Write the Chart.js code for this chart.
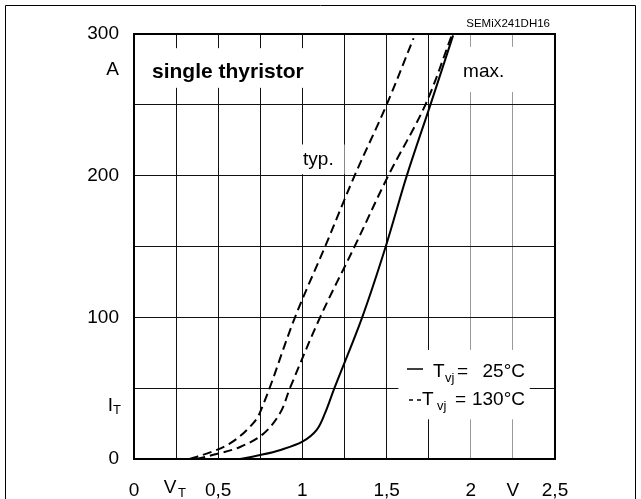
<!DOCTYPE html>
<html>
<head>
<meta charset="utf-8">
<script src="https://cdn.jsdelivr.net/npm/chart.js@4"></script>
<style>
html, body { margin: 0; padding: 0; background: #fff; }
#wrap { width: 641px; height: 499px; }
</style>
</head>
<body>
<div id="wrap"><canvas id="chart" width="641" height="499"></canvas></div>
<script>
// on-state characteristic I_T(V_T)
const vTyp130 = [0.33, 0.46, 0.57, 0.67, 0.745, 0.956, 1.135, 1.31, 1.50, 1.66];
const iTyp130 = [0, 5, 11, 20.5, 32, 100, 150, 200, 250, 297];

const vMax130 = [0.37, 0.49, 0.63, 0.77, 0.87, 0.926, 1.105, 1.31, 1.51, 1.73, 1.89];
const iMax130 = [0, 3.5, 8.5, 18, 33, 50, 100, 150, 200, 250, 300];

const v25 = [0.63, 0.75, 0.87, 1.0, 1.085, 1.135, 1.19, 1.355, 1.495, 1.62, 1.76, 1.895];
const i25 = [0, 2.8, 6.4, 12.2, 20.5, 32.5, 50, 100, 150, 200, 250, 299];

// axis ticks
const yTickValues = [0, 37.5, 50, 100, 150, 200, 250, 275, 300];
const yTickLabels = ['0', '', '', '100', '', '200', '', 'A', '300'];
const yGridValues = [0, 50, 100, 150, 200, 250, 300];

const xTickValues = [0, 0.25, 0.5, 0.75, 1, 1.25, 1.5, 1.75, 2, 2.25, 2.5];
const xTickLabels = ['0', '', '0,5', '', '1', '', '1,5', '', '2', 'V', '2,5'];
const xLightGrid = [2, 2.25];

const FONT = '"Liberation Sans", Arial, Helvetica, sans-serif';

function pts(xs, ys) {
  return xs.map((x, i) => ({ x: x, y: ys[i] }));
}

function text(ctx, s, x, y, size, align, bold) {
  ctx.font = (bold ? 'bold ' : '') + size + 'px ' + FONT;
  ctx.textAlign = align || 'left';
  ctx.textBaseline = 'middle';
  ctx.fillText(s, x, y);
}

const decor = {
  id: 'decor',
  beforeDatasetsDraw(chart) {
    const ctx = chart.ctx;
    const xs = chart.scales.x, ys = chart.scales.y;
    const px = v => xs.getPixelForValue(v);
    const py = v => ys.getPixelForValue(v);
    // white boxes behind the labels cut the grid
    const boxes = [
      [px(0.036), py(290), px(1.075), py(262)],
      [px(1.88), py(291), px(2.35), py(259)],
      [px(0.96), py(222), px(1.25), py(201)],
      [px(1.57), py(77), px(2.35), py(28)]
    ];
    ctx.save();
    ctx.fillStyle = '#fff';
    boxes.forEach(b => ctx.fillRect(b[0], b[1], b[2] - b[0], b[3] - b[1]));
    ctx.restore();
  },
  afterDatasetsDraw(chart) {
    const ctx = chart.ctx;
    const a = chart.chartArea;
    const xs = chart.scales.x, ys = chart.scales.y;
    const px = v => xs.getPixelForValue(v);
    const py = v => ys.getPixelForValue(v);
    ctx.save();
    // outer frame of the figure
    ctx.strokeStyle = '#000';
    ctx.lineWidth = 1;
    ctx.beginPath();
    ctx.moveTo(5.5, 520);
    ctx.lineTo(5.5, 5.5);
    ctx.lineTo(635.5, 5.5);
    ctx.lineTo(635.5, 520);
    ctx.stroke();
    // plot frame
    ctx.lineWidth = 2;
    ctx.strokeRect(a.left, a.top, a.right - a.left, a.bottom - a.top);

    ctx.fillStyle = '#000';
    text(ctx, 'SEMiX241DH16', a.right - 5, 24, 11.5, 'right');
    text(ctx, 'single thyristor', px(0.107), py(273), 21, 'left', true);
    text(ctx, 'max.', px(1.954), py(273), 19, 'left');
    text(ctx, 'typ.', px(1.004), py(211), 19, 'left');

    // axis symbols with subscripts
    const yIT = py(37.5);
    text(ctx, 'I', a.left - 21, yIT, 19, 'right');
    text(ctx, 'T', a.left - 21, yIT + 5, 13, 'left');
    const xVT = px(0.25);
    text(ctx, 'V', xVT - 6, 488, 19, 'center');
    text(ctx, 'T', xVT + 2, 493, 13, 'left');

    // legend
    const r1 = 372, r2 = 400;
    ctx.lineWidth = 1.5;
    ctx.beginPath();
    ctx.moveTo(407, r1 - 3); ctx.lineTo(423, r1 - 3);
    ctx.stroke();
    text(ctx, 'T', 433, r1, 19, 'left');
    text(ctx, 'vj', 445, r1 + 6, 13, 'left');
    text(ctx, '=', 457, r1, 19, 'left');
    text(ctx, '25°C', 525, r1, 19, 'right');
    ctx.beginPath();
    ctx.moveTo(409, r2); ctx.lineTo(413, r2);
    ctx.moveTo(417, r2); ctx.lineTo(421, r2);
    ctx.stroke();
    text(ctx, 'T', 422, r2, 19, 'left');
    text(ctx, 'vj', 437, r2 + 6, 13, 'left');
    text(ctx, '=', 455, r2, 19, 'left');
    text(ctx, '130°C', 525, r2, 19, 'right');
    ctx.restore();
  }
};

const lineStyle = {
  showLine: true,
  pointRadius: 0,
  borderColor: '#000',
  borderWidth: 2,
  tension: 0.35,
  fill: false
};

new Chart(document.getElementById('chart'), {
  type: 'scatter',
  data: {
    datasets: [
      Object.assign({ label: 'typ. 130°C', data: pts(vTyp130, iTyp130), borderDash: [9, 5] }, lineStyle),
      Object.assign({ label: 'max. 130°C', data: pts(vMax130, iMax130), borderDash: [9, 5] }, lineStyle),
      Object.assign({ label: '25°C', data: pts(v25, i25) }, lineStyle)
    ]
  },
  options: {
    responsive: false,
    animation: false,
    layout: { padding: { left: 0, right: 86, top: 34, bottom: 0 } },
    plugins: { legend: { display: false }, tooltip: { enabled: false } },
    scales: {
      x: {
        type: 'linear', min: 0, max: 2.5,
        afterBuildTicks(scale) { scale.ticks = xTickValues.map(v => ({ value: v })); },
        afterFit(scale) { scale.height = 40; },
        grid: {
          drawTicks: false, lineWidth: 1,
          color: c => (xLightGrid.includes(c.tick.value) ? '#9a9a9a' : '#111')
        },
        border: { color: '#000', width: 2 },
        ticks: {
          autoSkip: false, maxRotation: 0, padding: 20, color: '#000',
          font: { family: FONT, size: 19 },
          callback: (v, i) => xTickLabels[i]
        }
      },
      y: {
        type: 'linear', min: 0, max: 300,
        afterBuildTicks(scale) { scale.ticks = yTickValues.map(v => ({ value: v })); },
        afterFit(scale) { scale.width = 134; },
        grid: {
          drawTicks: false, lineWidth: 1,
          color: c => (yGridValues.includes(c.tick.value) ? '#111' : 'rgba(0,0,0,0)')
        },
        border: { color: '#000', width: 2 },
        ticks: {
          autoSkip: false, padding: 15, color: '#000',
          font: { family: FONT, size: 19 },
          callback: (v, i) => yTickLabels[i]
        }
      }
    }
  },
  plugins: [decor]
});
</script>
</body>
</html>
